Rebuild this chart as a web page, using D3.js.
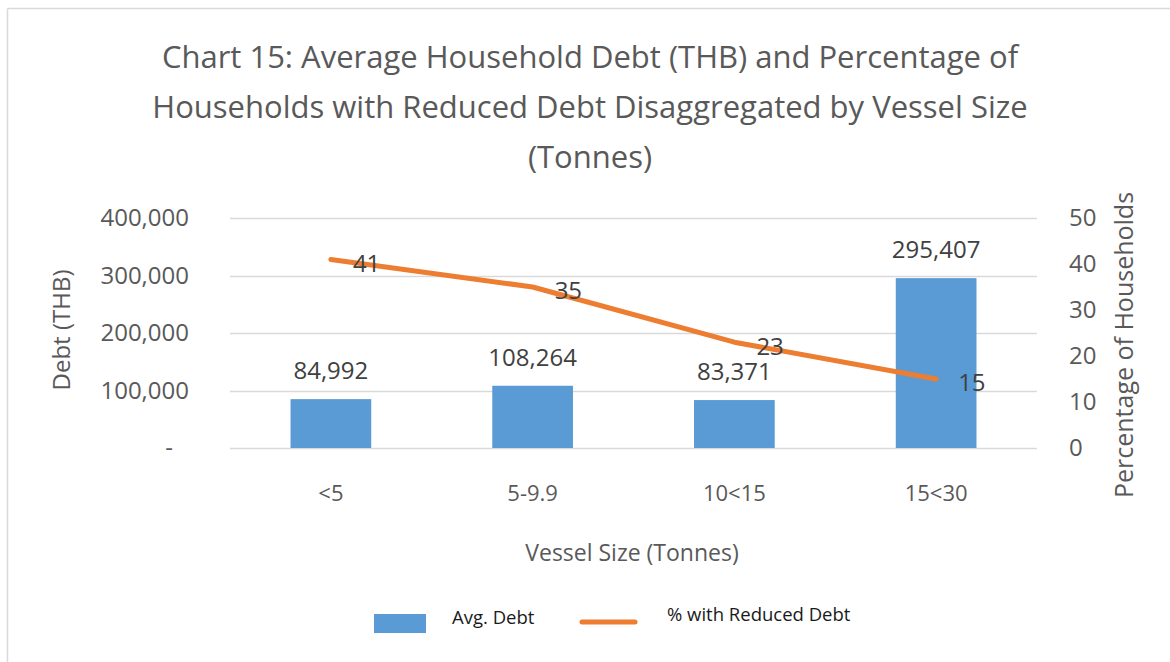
<!DOCTYPE html>
<html>
<head>
<meta charset="utf-8">
<script src="https://cdn.jsdelivr.net/npm/d3@7"></script>
<style>
  body { margin: 0; background: #fff; }
  text { font-family: "Open Sans", "Noto Sans", sans-serif; }
</style>
</head>
<body>
<script>
// chart data
var categories = ["<5", "5-9.9", "10<15", "15<30"];
var avgDebt = [84992, 108264, 83371, 295407];
var pctReduced = [41, 35, 23, 15];
var debtTicks = [0, 100000, 200000, 300000, 400000];
var pctTicks = [0, 10, 20, 30, 40, 50];
var titleLines = [
    "Chart 15: Average Household Debt (THB) and Percentage of",
    "Households with Reduced Debt Disaggregated by Vessel Size",
    "(Tonnes)"
];

var width = 1170;
var height = 662;
var svg = d3.select('body')
    .append("svg")
    .attr("width", width)
    .attr("height", height);

// chart frame (only top and left edges visible)
svg.append("line").attr("x1", 7.5).attr("x2", width).attr("y1", 8.5).attr("y2", 8.5)
    .attr("stroke", "#d9d9d9").attr("stroke-width", 1.5);
svg.append("line").attr("x1", 7.5).attr("x2", 7.5).attr("y1", 8.5).attr("y2", height)
    .attr("stroke", "#d9d9d9").attr("stroke-width", 1.5);

var plot = { left: 230, right: 1037, top: 218, bottom: 448 };

svg.append("g").classed("title", true)
    .selectAll("text")
    .data(titleLines)
    .enter()
    .append("text")
    .attr("x", 590)
    .attr("y", function (d, i) { return 68 + i * 50; })
    .attr("text-anchor", "middle")
    .attr("font-size", 31)
    .attr("fill", "#595959")
    .text(function (d) { return d; });

var xScale = d3.scaleBand()
    .domain(categories)
    .range([plot.left, plot.right])
    .paddingInner(0.6)
    .paddingOuter(0.3);
var yScale = d3.scaleLinear()
    .domain([0, 400000])
    .range([plot.bottom, plot.top]);
var y2Scale = d3.scaleLinear()
    .domain([0, 50])
    .range([plot.bottom, plot.top]);

// gridlines
svg.append("g").classed("grid", true)
    .selectAll("line")
    .data(debtTicks)
    .enter()
    .append("line")
    .attr("x1", plot.left)
    .attr("x2", plot.right)
    .attr("y1", function (d) { return Math.round(yScale(d)) + 0.5; })
    .attr("y2", function (d) { return Math.round(yScale(d)) + 0.5; })
    .attr("stroke", "#d9d9d9")
    .attr("stroke-width", 1.5);

// left axis
var yAxis = d3.axisLeft(yScale)
    .tickValues(debtTicks)
    .tickSize(0)
    .tickPadding(0)
    .tickFormat(function (d) { return d === 0 ? "-" : d3.format(",")(d); });
var yAxisGroup = svg.append("g")
    .attr("transform", "translate(189,0)")
    .call(yAxis);
yAxisGroup.select(".domain").remove();
yAxisGroup.selectAll("text")
    .attr("font-size", 24)
    .attr("font-family", "Open Sans, sans-serif")
    .attr("fill", "#595959")
    .attr("dx", function (d) { return d === 0 ? -16 : 0; });

// right axis
var y2Axis = d3.axisRight(y2Scale)
    .tickValues(pctTicks)
    .tickSize(0)
    .tickPadding(0);
var y2AxisGroup = svg.append("g")
    .attr("transform", "translate(1069,0)")
    .call(y2Axis);
y2AxisGroup.select(".domain").remove();
y2AxisGroup.selectAll("text")
    .attr("font-size", 24)
    .attr("font-family", "Open Sans, sans-serif")
    .attr("fill", "#595959");

// category axis
var xAxis = d3.axisBottom(xScale).tickSize(0).tickPadding(0);
var xAxisGroup = svg.append("g")
    .attr("transform", "translate(0,485)")
    .call(xAxis);
xAxisGroup.select(".domain").remove();
xAxisGroup.selectAll("text")
    .attr("font-size", 22)
    .attr("font-family", "Open Sans, sans-serif")
    .attr("fill", "#595959");

// axis titles
svg.append("text")
    .attr("transform", "translate(62,330) rotate(-90)")
    .attr("text-anchor", "middle")
    .attr("dy", "0.35em")
    .attr("font-size", 24)
    .attr("fill", "#595959")
    .text("Debt (THB)");
svg.append("text")
    .attr("transform", "translate(1124,345) rotate(-90)")
    .attr("text-anchor", "middle")
    .attr("dy", "0.35em")
    .attr("font-size", 25)
    .attr("fill", "#595959")
    .text("Percentage of Households");
svg.append("text")
    .attr("x", 632)
    .attr("y", 553)
    .attr("text-anchor", "middle")
    .attr("dy", "0.35em")
    .attr("font-size", 23)
    .attr("fill", "#595959")
    .text("Vessel Size (Tonnes)");

// bars
svg.append("g").classed("bars", true)
    .selectAll("rect")
    .data(avgDebt)
    .enter()
    .append("rect")
    .attr("x", function (d, i) { return xScale(categories[i]); })
    .attr("width", xScale.bandwidth())
    .attr("y", function (d) { return yScale(d); })
    .attr("height", function (d) { return yScale(0) - yScale(d); })
    .style("fill", "#5b9bd5");

svg.append("g").classed("bar-labels", true)
    .selectAll("text")
    .data(avgDebt)
    .enter()
    .append("text")
    .attr("x", function (d, i) { return xScale(categories[i]) + xScale.bandwidth() / 2; })
    .attr("y", function (d) { return yScale(d) - 20; })
    .attr("text-anchor", "middle")
    .attr("font-size", 24)
    .attr("fill", "#404040")
    .text(function (d) { return d3.format(",")(d); });

// line
var cx = function (i) { return xScale(categories[i]) + xScale.bandwidth() / 2; };
var line = d3.line()
    .x(function (d, i) { return cx(i); })
    .y(function (d) { return y2Scale(d); });
svg.append("path")
    .datum(pctReduced)
    .attr("d", line)
    .attr("fill", "none")
    .attr("stroke", "#ed7d31")
    .attr("stroke-width", 5)
    .attr("stroke-linecap", "round")
    .attr("stroke-linejoin", "round");

svg.append("g").classed("line-labels", true)
    .selectAll("text")
    .data(pctReduced)
    .enter()
    .append("text")
    .attr("x", function (d, i) { return cx(i) + 22; })
    .attr("y", function (d) { return y2Scale(d) + 4; })
    .attr("dy", "0.35em")
    .attr("font-size", 24)
    .attr("fill", "#404040")
    .text(function (d) { return d; });

// legend
var legend = svg.append("g").classed("legend", true);
legend.append("rect")
    .attr("x", 374).attr("y", 614).attr("width", 52).attr("height", 19)
    .style("fill", "#5b9bd5");
legend.append("text")
    .attr("x", 452).attr("y", 618).attr("dy", "0.35em")
    .attr("font-size", 18.5).attr("fill", "#1a1a1a")
    .text("Avg. Debt");
legend.append("line")
    .attr("x1", 582).attr("x2", 635).attr("y1", 622).attr("y2", 622)
    .attr("stroke", "#ed7d31").attr("stroke-width", 5).attr("stroke-linecap", "round");
legend.append("text")
    .attr("x", 667).attr("y", 615).attr("dy", "0.35em")
    .attr("font-size", 18.5).attr("fill", "#1a1a1a")
    .text("% with Reduced Debt");
</script>
</body>
</html>
